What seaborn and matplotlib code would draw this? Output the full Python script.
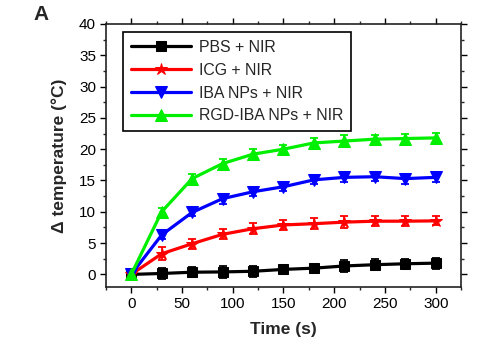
import numpy as np
import pandas as pd
import matplotlib
matplotlib.use("Agg")
import matplotlib.pyplot as plt
import seaborn as sns
from matplotlib.ticker import MultipleLocator

time_s = [0, 30, 60, 90, 120, 150, 180, 210, 240, 270, 300]
series_names = ["PBS + NIR", "ICG + NIR", "IBA NPs + NIR", "RGD-IBA NPs + NIR"]
pbs = [0, 0.15, 0.35, 0.4, 0.5, 0.8, 1.0, 1.35, 1.55, 1.7, 1.8]
icg = [0, 3.3, 4.9, 6.4, 7.3, 7.9, 8.1, 8.35, 8.5, 8.5, 8.55]
iba = [0, 6.3, 9.9, 12.1, 13.2, 14.0, 15.1, 15.5, 15.6, 15.3, 15.5]
rgd = [0, 10.0, 15.3, 17.7, 19.2, 20.0, 21.0, 21.3, 21.6, 21.7, 21.8]
pbs_err = [0.3, 0.9, 0.8, 0.9, 0.9, 0.6, 0.6, 0.9, 0.9, 0.7, 0.9]
icg_err = [0.3, 1.0, 0.8, 0.8, 0.9, 0.8, 0.9, 0.9, 0.8, 0.8, 0.7]
iba_err = [0.3, 0.7, 0.6, 0.8, 0.7, 0.7, 0.7, 0.8, 0.7, 0.8, 0.8]
rgd_err = [0.3, 0.6, 0.7, 0.8, 0.8, 0.7, 0.8, 0.9, 0.7, 0.8, 0.8]

colors = ["#000000", "#ff0000", "#0000ff", "#00ee00"]
markers = ["s", "*", "v", "^"]
msizes = [7.5, 9, 8.5, 8.5]

rows = []
for name, vals, errs in zip(series_names, [pbs, icg, iba, rgd], [pbs_err, icg_err, iba_err, rgd_err]):
    for t, v, e in zip(time_s, vals, errs):
        rows.append({"Time": t, "dT": v, "err": e, "Group": name})
df = pd.DataFrame(rows)

sns.set_theme(style="ticks")
plt.rcParams["font.family"] = ["Liberation Sans", "DejaVu Sans"]

fig = plt.figure(figsize=(4.9, 3.42), dpi=100)
ax = fig.add_axes([0.216, 0.161, 0.725, 0.769])

for name, c, m, ms in zip(series_names, colors, markers, msizes):
    sub = df[df["Group"] == name]
    ax.errorbar(sub["Time"], sub["dT"], yerr=sub["err"], fmt="none", ecolor=c,
                elinewidth=1.3, capsize=3, capthick=1.3, zorder=2)
    sns.lineplot(data=sub, x="Time", y="dT", ax=ax, color=c, marker=m,
                 markersize=ms, markeredgecolor=c, linewidth=2.3, label=name,
                 zorder=3)

ax.set_xlim(-25, 325)
ax.set_ylim(-2, 40)
ax.xaxis.set_major_locator(MultipleLocator(50))
ax.xaxis.set_minor_locator(MultipleLocator(25))
ax.yaxis.set_major_locator(MultipleLocator(5))
ax.yaxis.set_minor_locator(MultipleLocator(2.5))
ax.tick_params(axis="both", which="major", direction="out", length=4, width=1,
               labelsize=11, colors="black", pad=3)
ax.tick_params(axis="both", which="minor", direction="out", length=2.5, width=1)
ax.tick_params(top=True, right=True, which="both")
for s in ax.spines.values():
    s.set_linewidth(1.2)
    s.set_color("#222222")

ax.set_xlabel("Time (s)", fontsize=12.5, fontweight="bold", labelpad=8)
ax.set_ylabel("\u0394 temperature (\u00b0C)", fontsize=12.5, fontweight="bold", labelpad=9)

leg = ax.legend(loc="upper left", bbox_to_anchor=(0.048, 0.97), borderaxespad=0,
                fontsize=11.4, frameon=True, fancybox=False, handlelength=3.8,
                borderpad=0.5, labelspacing=0.5, handletextpad=0.5)
leg.get_frame().set_edgecolor("black")
leg.get_frame().set_linewidth(1.2)
leg.get_frame().set_alpha(1)

fig.text(0.068, 0.958, "A", fontsize=15, fontweight="bold", ha="left", va="center")

fig.savefig("out.png", dpi=100)
